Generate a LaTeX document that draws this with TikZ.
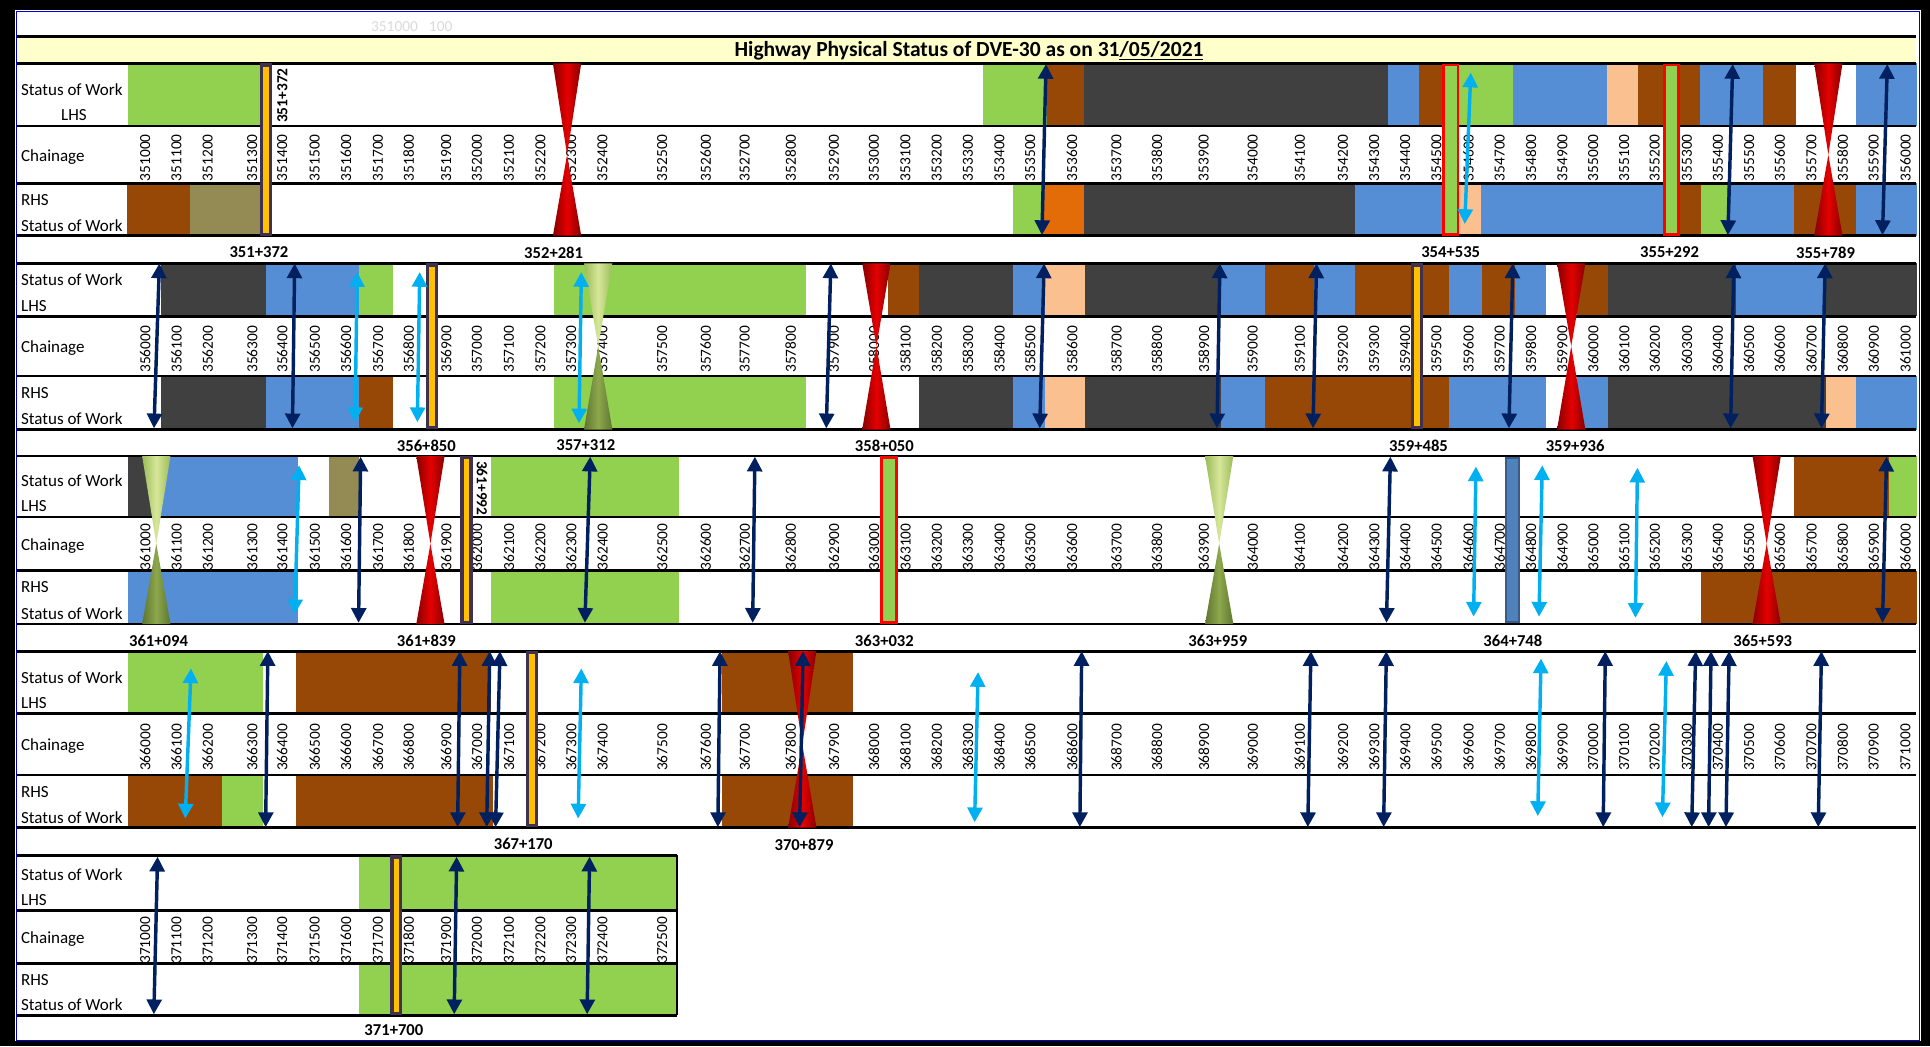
\documentclass[tikz,border=0pt]{standalone}
\usepackage{fontspec}
\setmainfont{Carlito}
\usetikzlibrary{arrows.meta}

\definecolor{wgreen}{HTML}{92D050}
\definecolor{wbrown}{HTML}{974806}
\definecolor{wgray}{HTML}{404040}
\definecolor{wblue}{HTML}{558ED5}
\definecolor{wpeach}{HTML}{FAC090}
\definecolor{wolive}{HTML}{948A54}
\definecolor{worange}{HTML}{E36C09}
\definecolor{titlebg}{HTML}{FFFFCC}
\definecolor{navy}{HTML}{002060}
\definecolor{sky}{HTML}{00B0F0}
\definecolor{barfill}{HTML}{FFC000}
\definecolor{barline}{HTML}{403151}
\definecolor{steel}{HTML}{4F81BD}
\definecolor{steeldark}{HTML}{385D8A}
\definecolor{hgred}{HTML}{C00000}
\definecolor{hgtopedge}{HTML}{9BBB59}
\definecolor{hgtopmid}{HTML}{D7E79A}
\definecolor{hgbotedge}{HTML}{5F7530}
\definecolor{hgbotmid}{HTML}{8DA84C}
\definecolor{framebl}{HTML}{0000CC}

% x positions of the chainage columns (shared by all blocks)
\newcommand{\chainagecols}{118,143.3,168.7,204.9,229.2,255.7,281,307,332,362.5,387.5,413.5,439,464,489.5,538,573.4,605,642.3,677.5,710,735.6,761,786.3,812,837,871,907,940,978,1017.7,1056,1091,1116.5,1141.7,1167,1193,1218.4,1243.8,1269.3,1294.4,1319.5,1344.4,1370.5,1395.6,1421,1446,1471.6,1497,1522.2,1548}

\begin{document}
\begin{tikzpicture}[
    x=1pt, y=-1pt,
    rowline/.style={line width=2.3pt},
    rowlab/.style={anchor=west, inner sep=0pt, font=\fontsize{13.8}{14}\selectfont},
    chain/.style={rotate=90, inner sep=0pt, font=\fontsize{12.5}{13}\selectfont},
    kmlab/.style={inner sep=0pt, font=\bfseries\fontsize{13.5}{14}\selectfont},
    headtext/.style={inner sep=0pt, font=\bfseries\fontsize{17.5}{19}\selectfont},
    ghost/.style={inner sep=0pt, text=black!14, font=\fontsize{12.5}{13}\selectfont},
    darr/.style={navy, line width=2.8pt, {Triangle[width=12pt,length=12pt]}-{Triangle[width=12pt,length=12pt]}},
    larr/.style={sky, line width=2.8pt, {Triangle[width=12pt,length=12pt]}-{Triangle[width=12pt,length=12pt]}},
    kmbar/.style={fill=barfill, draw=barline, line width=2.6pt},
    rgbar/.style={fill=wgreen, draw=red, line width=2.4pt},
    bluebar/.style={fill=steel, draw=steeldark, line width=1.8pt},
    redtri/.style={left color=hgred!70!black, right color=hgred!70!black, middle color=red!90!black},
    greentop/.style={left color=hgtopedge, right color=hgtopedge, middle color=hgtopmid},
    greenbot/.style={left color=hgbotedge, right color=hgbotedge, middle color=hgbotmid}
  ]
  \useasboundingbox (0,0) rectangle (1568,850);

  % frame
  \fill[black] (0,0) rectangle (1568,850);
  \fill[white] (12,8.5) rectangle (1561,846);
  \draw[framebl, line width=1pt] (13.5,9.5) rectangle (1559.5,845.5);
  \node[ghost] (ghost) at (334.5,21.5) {351000\hspace{9pt}100};

  % title bar
  \fill[titlebg] (14,29.8) rectangle (1557,51.5);
  \draw[rowline] (14,29.8) -- (1557,29.8);
  \node[headtext] (title) at (787.3,41.5) {Highway Physical Status of DVE-30 as on 31\underline{/05/2021}};

  % status of work, block 1
  \foreach \xa/\xb/\c in {104.1/212.2/wgreen, 798.3/850.8/wgreen, 850.8/881/wbrown, 881/1127.3/wgray, 1127.3/1152.8/wblue, 1152.8/1183.4/wbrown, 1183.4/1229.1/wgreen, 1229.1/1305.8/wblue, 1305.8/1331/wpeach, 1331/1381/wbrown, 1381/1432.1/wblue, 1432.1/1459.3/wbrown, 1508.2/1557.2/wblue}
    \fill[\c] (\xa,51.5) rectangle (\xb,102.4);
  \foreach \xa/\xb/\c in {103.4/154.2/wbrown, 154.2/212.2/wolive, 823/847.2/wgreen, 847.2/881/worange, 881/1101.2/wgray, 1101.2/1182.8/wblue, 1182.8/1203/wpeach, 1203/1361.4/wblue, 1361.4/1381.9/wbrown, 1381.9/1402.8/wgreen, 1402.8/1457.6/wblue, 1457.6/1508.2/wbrown, 1508.2/1557.2/wblue}
    \fill[\c] (\xa,149) rectangle (\xb,191.5);
  % block 2
  \foreach \xa/\xb/\c in {130.6/215.8/wgray, 215.8/292/wblue, 292/319.2/wgreen, 449.8/655/wgreen, 721.4/746.8/wbrown, 746.8/823/wgray, 823/849/wblue, 849/881.7/wpeach, 881.7/992.3/wgray, 992.3/1027.9/wblue, 1027.9/1067.5/wbrown, 1067.5/1101.2/wblue, 1101.2/1177.6/wbrown, 1177.6/1203.7/wblue, 1203.7/1230.8/wbrown, 1230.8/1256/wblue, 1281.4/1306/wbrown, 1306/1410.3/wgray, 1410.3/1483.7/wblue, 1483.7/1557.2/wgray}
    \fill[\c] (\xa,214) rectangle (\xb,257);
  \foreach \xa/\xb/\c in {130.6/215.8/wgray, 215.8/292/wblue, 292/319.2/wbrown, 449.8/655/wgreen, 746.8/823/wgray, 823/849/wblue, 849/881.7/wpeach, 881.7/992.3/wgray, 992.3/1027.9/wblue, 1027.9/1177.6/wbrown, 1177.6/1256/wblue, 1281.4/1306/wblue, 1306/1483.7/wgray, 1483.7/1508.2/wpeach, 1508.2/1557.2/wblue}
    \fill[\c] (\xa,305.5) rectangle (\xb,349);
  % block 3
  \foreach \xa/\xb/\c in {104.1/127/wgray, 127/242.3/wblue, 267.3/292/wolive, 399/551.3/wgreen, 1457.6/1534.3/wbrown, 1534.3/1557.2/wgreen}
    \fill[\c] (\xa,370.5) rectangle (\xb,420);
  \foreach \xa/\xb/\c in {104.1/242.3/wblue, 399/551.3/wgreen, 1382/1557.2/wbrown}
    \fill[\c] (\xa,463.6) rectangle (\xb,507);
  % block 4
  \foreach \xa/\xb/\c in {104.1/213.3/wgreen, 240.5/399/wbrown, 586.8/693.1/wbrown}
    \fill[\c] (\xa,529) rectangle (\xb,580);
  \foreach \xa/\xb/\c in {104.1/180.3/wbrown, 180.3/213.3/wgreen, 240.5/400.8/wbrown, 586.8/693.1/wbrown}
    \fill[\c] (\xa,629.6) rectangle (\xb,672.4);
  % block 5
  \fill[wgreen] (292,695) rectangle (550,740);
  \fill[wgreen] (292,783) rectangle (550,825);

  % rows, row labels and chainage
  \foreach \bk/\yt/\ya/\yb/\ybot/\xend/\base/\ncol/\lx in {1/51.5/102.4/149/191.5/1557/351000/51/49.5, 2/214/257/305.5/349/1557/356000/51/17, 3/370.5/420/463.6/507/1557/361000/51/17, 4/529/580/629.6/672.4/1557/366000/51/17, 5/695/740/783/825/550/371000/16/17} {
    \foreach \y in {\yt,\ya,\yb,\ybot}
      \draw[rowline] (14,\y) -- (\xend,\y);
    \ifnum\bk=5 \draw[rowline] (550,\yt) -- (550,\ybot); \fi
    \node[rowlab] (sl\bk) at (17,\ya-29.5) {Status of Work};
    \node[rowlab] (l\bk) at (\lx,\ya-8.6) {LHS};
    \node[rowlab] (ch\bk) at (17,{(\ya+\yb)/2+1.5}) {Chainage};
    \node[rowlab] (r\bk) at (17,\yb+13.5) {RHS};
    \node[rowlab] (sr\bk) at (17,\ybot-8.5) {Status of Work};
    \foreach \x [count=\i from 0] in \chainagecols {
      \ifnum\i<\ncol
        \node[chain] (c\bk-\i) at (\x,{(\ya+\yb)/2+2.5}) {\the\numexpr\base+100*\i\relax};
      \fi
    }
  }

  % red hourglasses
  \foreach \x/\yt/\ym/\yb in {460.7/51.5/125.7/191.5, 1485.4/51.5/125.7/191.5, 712/214/281.3/349, 1276.5/214/281.3/349, 349.7/370.5/441.8/507, 1435.3/370.5/441.8/507, 651.8/529/604.8/672.4} {
    \shade[redtri] (\x-11.5,\yt) -- (\x+11.5,\yt) -- (\x,\ym) -- cycle;
    \shade[redtri] (\x-11.5,\yb) -- (\x+11.5,\yb) -- (\x,\ym) -- cycle;
  }
  % green hourglasses
  \foreach \x/\yt/\ym/\yb in {486/214/281.3/349, 127/370.5/441.8/507, 990.5/370.5/441.8/507} {
    \shade[greentop] (\x-11.5,\yt) -- (\x+11.5,\yt) -- (\x,\ym) -- cycle;
    \shade[greenbot] (\x-11.5,\yb) -- (\x+11.5,\yb) -- (\x,\ym) -- cycle;
  }

  % chainage bars
  \foreach \x/\yt/\yb in {216.2/52.8/190.2, 351/215.3/347.5, 1151.3/215.3/347.5, 379/371.8/505.5, 432/530.3/670.5, 322/696.3/823.5}
    \filldraw[kmbar] (\x-3.6,\yt) rectangle (\x+3.6,\yb);
  \foreach \x/\yt/\yb in {1178.5/52.8/190.2, 1358/52.8/190.2, 722/371.8/505.5}
    \filldraw[rgbar] (\x-6,\yt) rectangle (\x+6,\yb);
  \filldraw[bluebar] (1223.6,371.8) rectangle (1234,505.5);
  \node[kmlab, rotate=90, font=\bfseries\fontsize{12.5}{13}\selectfont] (rot1) at (229.5,77.7) {351+372};
  \node[kmlab, rotate=-90, font=\bfseries\fontsize{12.5}{13}\selectfont] (rot2) at (391.7,396.7) {361+992};

  % arrows
  \foreach \xa/\ya/\xb/\yb/\s [count=\n] in {
      849.8/52/846.5/191/darr, 1194.9/59/1190/182/larr, 1407.7/52/1403.8/191/darr, 1533.3/52/1529.4/191/darr,
      129.5/214/125.1/348/darr, 239.4/214/237.6/348/darr, 290.2/221/288.4/343/larr, 341/221/339.1/343/larr,
      472.3/221/470.4/344/larr, 675/214/671.3/348/darr, 848.3/214/844.7/348/darr, 991.1/214/988.7/348/darr,
      1069.6/214/1066.7/348/darr, 1229.1/214/1225.9/348/darr, 1408.6/214/1406/348/darr, 1482.8/214/1479.8/348/darr,
      243/378/239.4/499/larr, 293/371/291.3/506/darr, 479.5/371/475.2/506/darr, 613.3/371/611.5/506/darr,
      1129.6/371/1126.4/506/darr, 1199.1/379/1197.2/501/larr, 1253/378/1250.3/501/larr, 1330.3/380/1328.7/502/larr,
      1532.7/371/1529.4/506/darr,
      155.2/543/150.5/665/larr, 217.6/529/215.8/672/darr, 373.6/529/371.8/672/darr, 397.9/529/395.4/672/darr,
      406.2/529/402.6/672/darr, 472.3/543/469.7/665/larr, 585/529/583.2/672/darr, 652.5/529/649.6/672/darr,
      794.6/546/791.8/668/larr, 878.8/529/877.3/672/darr, 1065/529/1062.5/672/darr, 1126.3/529/1124.1/672/darr,
      1252/535/1249.3/663/larr, 1304.2/529/1302.5/672/darr, 1353.8/537/1350.6/664/larr, 1377.6/529/1374.4/672/darr,
      1390.1/529/1388.1/672/darr, 1404.8/529/1402.2/672/darr, 1479.8/529/1477.2/672/darr,
      128/696/125/824/darr, 371/696/369/824/darr, 479/696/477/824/darr} {
    \coordinate (ar\n t) at (\xa,\ya);
    \coordinate (ar\n b) at (\xb,\yb);
    \draw[\s] (ar\n t) -- (ar\n b);
  }

  % chainage labels under the blocks
  \foreach \x/\y/\t [count=\n] in {
      210.4/205/351+372, 449.8/205/352+281, 1178.6/205/354+535, 1356.4/205/355+292, 1483.1/205/355+789,
      346.4/362/356+850, 475.9/362/357+312, 718.5/362/358+050, 1152.4/362/359+485, 1279.7/362/359+936,
      128.8/520.5/361+094, 346.4/520.5/361+839, 718.5/520.5/363+032, 989.4/520.5/363+959, 1229.1/520.5/364+748, 1432.1/520.5/365+593,
      425.1/686/367+170, 653.2/686/370+879,
      320/837/371+700}
    \node[kmlab] (km\n) at (\x,\y) {\t};
\end{tikzpicture}
\end{document}
